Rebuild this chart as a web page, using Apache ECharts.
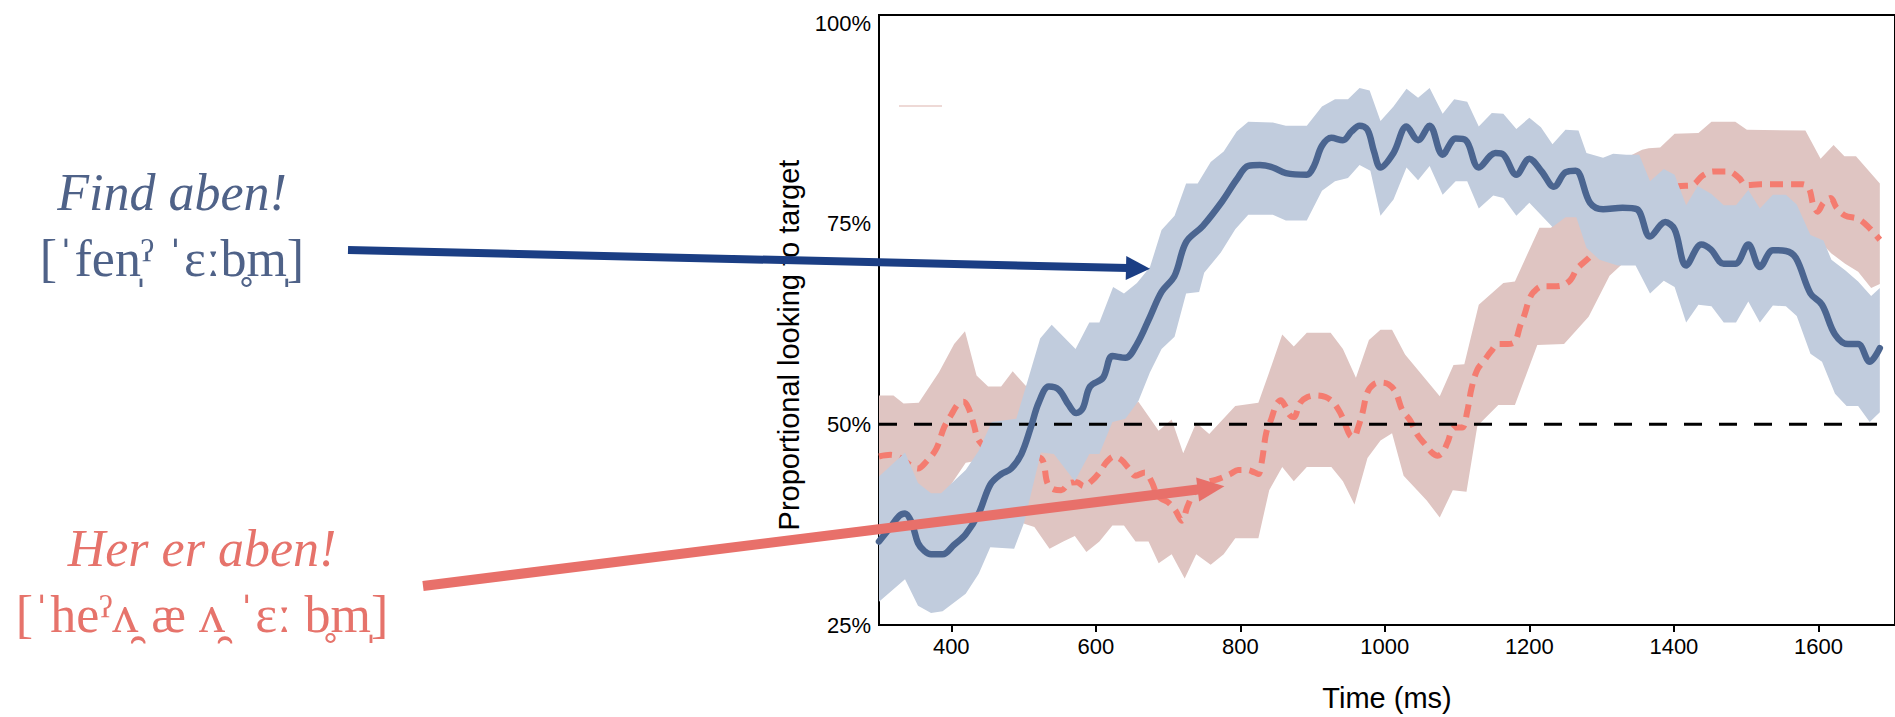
<!DOCTYPE html>
<html>
<head>
<meta charset="utf-8">
<script src="https://cdn.jsdelivr.net/npm/echarts@6/dist/echarts.min.js"></script>
<style>
  html, body { margin: 0; padding: 0; background: #ffffff; }
  #chart { width: 1895px; height: 717px; }
</style>
</head>
<body>
<div id="chart"></div>
<script>
// Axis ticks
const xTicks = [400, 600, 800, 1000, 1200, 1400, 1600];
const yTicks = [25, 50, 75, 100];
const chanceLevel = 50;

// "Find aben!" — mean proportion of looks to target and its confidence band, [ms, %]
const findMean = [
  [300,35.4],[316,37.2],[328,38.6],[336,38.9],[345,37.8],[354,35.2],[363,34.2],[372,33.8],[388,33.8],[404,35.0],
  [420,36.3],[438,38.9],[454,42.5],[469,43.8],[483,44.5],[497,46.3],[510,49.6],[521,52.7],[535,54.7],[549,54.3],
  [562,52.5],[573,51.4],[582,52.0],[592,54.7],[610,55.8],[623,58.5],[641,58.3],[657,60.0],[675,63.4],[691,66.5],
  [709,68.5],[725,72.7],[748,74.7],[775,77.8],[795,80.5],[811,82.2],[827,82.3],[845,82.0],[863,81.3],[892,81.1],
  [902,82.2],[913,84.7],[926,85.7],[942,85.4],[954,86.5],[965,87.2],[976,86.7],[985,84.0],[994,82.0],[1012,83.8],
  [1030,87.1],[1046,85.4],[1062,87.2],[1080,83.6],[1098,85.6],[1112,85.4],[1130,82.0],[1153,83.8],[1164,83.6],[1182,81.1],
  [1200,83.1],[1217,81.5],[1234,79.6],[1250,81.4],[1264,81.6],[1284,77.6],[1302,76.8],[1329,77.0],[1349,76.8],[1367,73.4],
  [1388,75.2],[1401,74.3],[1417,69.8],[1438,72.4],[1451,71.8],[1469,70.0],[1485,70.0],[1503,72.4],[1519,69.6],[1537,71.7],
  [1555,71.6],[1569,70.7],[1589,66.3],[1605,64.9],[1623,61.2],[1641,60.0],[1655,60.0],[1671,57.8],[1685,59.5]
];
const findUpper = [
  [300,43.5],[336,46.5],[354,42.7],[372,41.4],[386,41.4],[420,44.3],[438,46.7],[456,50.3],[490,50.7],[505,55.2],
  [523,60.7],[539,62.4],[572,59.4],[591,62.7],[605,62.7],[624,67.1],[639,66.3],[657,67.6],[675,69.6],[691,74.2],
  [709,76.0],[725,80.0],[741,80.0],[759,82.7],[777,84.0],[795,86.5],[811,87.7],[845,87.6],[863,87.2],[892,87.2],
  [913,89.6],[931,90.5],[949,90.5],[965,91.9],[979,91.6],[994,87.8],[1012,89.6],[1030,91.8],[1046,90.7],[1062,91.9],
  [1080,88.7],[1096,90.5],[1114,90.2],[1130,87.1],[1148,88.8],[1164,88.7],[1182,86.8],[1200,88.2],[1216,87.0],[1232,84.9],
  [1250,86.7],[1268,86.6],[1279,83.8],[1302,83.2],[1316,83.7],[1334,83.6],[1352,83.6],[1367,80.3],[1386,81.8],[1401,81.1],
  [1417,77.3],[1433,79.7],[1452,78.7],[1469,77.3],[1486,77.3],[1503,79.2],[1519,76.9],[1537,78.6],[1555,78.6],[1570,77.4],
  [1589,73.6],[1607,72.9],[1618,70.5],[1637,69.2],[1655,67.8],[1673,66.0],[1685,67.0]
];
const findLower = [
  [300,27.9],[336,30.7],[354,27.4],[372,26.5],[388,26.7],[420,28.9],[438,31.4],[454,34.7],[487,34.5],[501,37.8],
  [524,46.5],[542,46.3],[571,42.9],[591,46.3],[605,46.3],[623,50.3],[641,50.7],[659,52.9],[675,56.5],[691,59.4],
  [709,60.9],[725,66.3],[743,66.5],[750,68.9],[773,71.4],[793,74.3],[811,76.1],[845,76.1],[863,75.4],[892,75.4],
  [913,79.1],[931,80.3],[949,80.7],[965,82.3],[980,81.6],[994,76.0],[1012,78.0],[1030,82.0],[1046,80.4],[1062,82.2],
  [1080,78.6],[1098,80.3],[1114,80.3],[1130,76.9],[1150,78.5],[1164,78.2],[1182,76.0],[1200,77.6],[1232,74.6],[1250,75.8],
  [1265,75.8],[1279,72.0],[1297,70.5],[1322,69.8],[1347,69.8],[1367,66.3],[1386,67.9],[1401,67.1],[1417,62.7],[1434,64.9],
  [1452,64.7],[1469,62.7],[1486,62.7],[1503,65.3],[1519,62.7],[1537,64.8],[1555,64.7],[1570,63.5],[1589,58.8],[1605,57.8],
  [1623,53.8],[1639,52.3],[1655,52.3],[1671,50.3],[1685,51.5]
];

// "Her er aben!" — mean proportion of looks to target and its confidence band, [ms, %]
const herMean = [
  [300,46.0],[316,46.2],[330,45.8],[345,44.8],[354,44.5],[365,45.3],[379,46.9],[390,49.6],[400,51.2],[410,52.6],
  [417,52.8],[424,52.0],[431,50.0],[438,48.0],[455,46.5],[475,45.5],[495,45.8],[512,46.0],[526,45.6],[533,42.7],
  [542,41.9],[552,41.8],[564,42.7],[574,42.8],[583,42.3],[595,43.0],[605,44.0],[615,45.3],[625,46.0],[635,45.6],
  [645,44.6],[655,43.6],[668,44.0],[677,42.9],[684,41.4],[691,40.7],[700,40.3],[710,39.3],[719,38.0],[727,39.8],
  [736,41.5],[745,42.3],[755,42.8],[770,43.2],[786,43.8],[797,44.3],[809,44.3],[820,44.0],[825,43.8],[830,45.5],
  [836,49.0],[843,50.7],[850,52.5],[856,53.0],[862,52.3],[868,51.2],[874,50.9],[883,52.7],[893,53.4],[905,53.6],
  [918,53.4],[928,52.8],[938,51.5],[946,49.8],[952,48.6],[957,48.4],[963,49.6],[969,51.4],[976,54.0],[985,55.0],
  [994,55.2],[1005,55.0],[1015,54.0],[1024,51.8],[1035,50.5],[1045,48.7],[1055,47.6],[1065,46.5],[1073,46.1],[1080,46.5],
  [1087,47.8],[1096,49.6],[1107,49.6],[1114,51.6],[1120,54.5],[1128,56.8],[1138,58.0],[1147,59.1],[1157,60.0],[1170,60.0],
  [1180,60.3],[1187,62.2],[1193,63.6],[1200,65.6],[1206,66.5],[1218,67.2],[1232,67.2],[1245,67.3],[1257,68.0],[1266,69.4],
  [1282,70.7],[1300,72.5],[1325,75.0],[1350,77.0],[1375,78.5],[1395,79.5],[1410,79.7],[1425,79.8],[1440,81.0],[1455,81.5],
  [1476,81.5],[1490,80.7],[1500,79.8],[1520,79.9],[1550,79.9],[1578,79.9],[1587,79.4],[1593,77.3],[1599,76.5],[1607,77.6],
  [1617,78.2],[1625,77.0],[1637,76.0],[1655,75.6],[1668,74.7],[1685,73.0]
];
const herUpper = [
  [300,53.6],[320,53.6],[334,52.6],[355,52.7],[383,56.5],[404,60.0],[419,61.6],[435,56.1],[451,54.7],[469,54.7],
  [485,56.6],[503,54.8],[520,55.0],[545,55.5],[570,54.5],[600,54.5],[625,53.5],[641,52.0],[659,52.8],[687,49.2],
  [705,50.6],[721,46.4],[739,50.2],[757,48.8],[793,52.3],[825,52.7],[840,56.5],[858,61.2],[874,59.7],[892,61.4],
  [925,61.4],[942,59.4],[960,55.8],[978,60.5],[994,61.8],[1010,61.8],[1028,58.7],[1076,53.5],[1095,57.4],[1110,57.5],
  [1130,64.9],[1164,67.6],[1180,67.8],[1214,74.5],[1230,74.5],[1250,76.5],[1270,79.0],[1290,81.0],[1310,82.5],[1334,83.2],
  [1356,84.2],[1365,84.4],[1381,84.5],[1401,86.2],[1434,86.3],[1452,87.7],[1485,87.7],[1501,86.7],[1582,86.6],[1603,83.1],
  [1621,84.8],[1636,83.4],[1652,83.4],[1685,80.0]
];
const herLower = [
  [300,38.0],[336,39.5],[372,40.5],[388,40.9],[399,42.4],[420,45.2],[438,45.5],[460,43.0],[480,40.0],[501,37.6],
  [515,37.2],[536,34.5],[555,35.4],[571,36.1],[587,34.1],[605,35.4],[623,37.4],[639,37.4],[655,35.4],[673,35.4],
  [687,32.7],[705,33.8],[723,30.8],[739,33.8],[759,32.5],[777,33.8],[793,35.8],[825,35.8],[840,41.8],[858,44.7],
  [874,42.9],[892,44.7],[926,44.7],[942,42.9],[958,40.0],[976,45.8],[994,48.0],[1010,48.9],[1026,43.6],[1058,40.5],
  [1076,38.4],[1094,41.8],[1113,41.6],[1128,49.8],[1157,52.4],[1180,52.4],[1211,59.9],[1248,60.0],[1282,63.4],[1311,68.5],
  [1329,70.0],[1347,70.4],[1380,72.0],[1420,73.0],[1460,74.0],[1500,75.0],[1540,75.0],[1570,74.0],[1589,73.0],[1605,72.5],
  [1618,71.3],[1637,70.0],[1655,69.0],[1673,67.0],[1685,67.5]
];

// Where the annotation arrows point, in [ms, %]
const findArrowTip = [675, 69.4];
const herArrowTip = [778, 42.3];

const COLORS = {
  findLine: '#4b6590',
  findBand: '#c1ccdd',
  herLine: '#f47c70',
  herBand: '#dfc5c2',
  findText: '#4f6288',
  herText: '#e6736b',
  findArrow: '#1b3e84',
  herArrow: '#e8706a'
};

const FONT_SANS = '"Liberation Sans", Arial, Helvetica, sans-serif';
const FONT_SERIF = '"Liberation Serif", "Times New Roman", "DejaVu Serif", serif';

// Confidence band: one polygon along the upper edge and back along the lower edge
function bandSeries(name, upper, lower, color, z) {
  return {
    name: name,
    type: 'custom',
    z: z,
    silent: true,
    clip: true,
    data: [[upper[0][0], upper[0][1]]],
    renderItem: function (params, api) {
      const pts = upper.map(p => api.coord(p))
        .concat(lower.slice().reverse().map(p => api.coord(p)));
      return { type: 'polygon', shape: { points: pts }, style: { fill: color } };
    }
  };
}

const chart = echarts.init(document.getElementById('chart'), null, { renderer: 'svg' });

const option = {
  animation: false,
  backgroundColor: '#ffffff',
  grid: {
    left: 879, top: 15, width: 1036, bottom: 91,
    show: true, borderColor: '#000', borderWidth: 2, backgroundColor: 'transparent'
  },
  xAxis: {
    type: 'value',
    min: 300, max: 1706,
    axisLine: { show: true, lineStyle: { color: '#000', width: 2 } },
    axisTick: { show: true, customValues: xTicks, length: 7, inside: false, lineStyle: { color: '#000', width: 2 } },
    axisLabel: {
      customValues: xTicks, color: '#000', fontSize: 22, fontFamily: FONT_SANS, margin: 10,
      formatter: v => String(v)
    },
    splitLine: { show: false },
    name: 'Time (ms)',
    nameLocation: 'middle',
    nameGap: 58,
    nameTextStyle: { color: '#000', fontSize: 29, fontFamily: FONT_SANS }
  },
  yAxis: {
    type: 'value',
    min: 25, max: 101,
    axisLine: { show: true, lineStyle: { color: '#000', width: 2 } },
    axisTick: { show: false },
    axisLabel: {
      customValues: yTicks, color: '#000', fontSize: 22, fontFamily: FONT_SANS, margin: 8,
      formatter: v => v + '%'
    },
    splitLine: { show: false }
  },
  series: [
    bandSeries('Her er aben! band', herUpper, herLower, COLORS.herBand, 1),
    {
      name: 'Her er aben!',
      type: 'line',
      z: 2,
      data: herMean,
      showSymbol: false,
      smooth: 0.35,
      silent: true,
      lineStyle: { color: COLORS.herLine, width: 6, type: [13, 8], cap: 'butt' }
    },
    bandSeries('Find aben! band', findUpper, findLower, COLORS.findBand, 3),
    {
      name: 'chance',
      type: 'line',
      z: 4,
      data: [[300, chanceLevel], [1706, chanceLevel]],
      showSymbol: false,
      silent: true,
      lineStyle: { color: '#000', width: 3, type: [18, 17] }
    },
    {
      name: 'Find aben!',
      type: 'line',
      z: 5,
      data: findMean,
      showSymbol: false,
      smooth: 0.35,
      silent: true,
      lineStyle: { color: COLORS.findLine, width: 6.5, cap: 'round', join: 'round' }
    }
  ]
};

chart.setOption(option);

// Arrow made of a shaft and a triangular head
function arrow(x1, y1, x2, y2, width, headLen, headHalf, color) {
  const dx = x2 - x1, dy = y2 - y1, L = Math.hypot(dx, dy);
  const ux = dx / L, uy = dy / L, nx = -uy, ny = ux;
  const bx = x2 - ux * headLen, by = y2 - uy * headLen;
  return [
    { type: 'line', z: 50, silent: true,
      shape: { x1: x1, y1: y1, x2: bx + ux * 2, y2: by + uy * 2 },
      style: { stroke: color, lineWidth: width } },
    { type: 'polygon', z: 51, silent: true,
      shape: { points: [[x2, y2], [bx + nx * headHalf, by + ny * headHalf], [bx - nx * headHalf, by - ny * headHalf]] },
      style: { fill: color } }
  ];
}

const findTip = chart.convertToPixel({ gridIndex: 0 }, findArrowTip);
const herTip = chart.convertToPixel({ gridIndex: 0 }, herArrowTip);

chart.setOption({
  graphic: [
    // short pale stroke left in the upper-left of the panel
    { type: 'line', z: 10, silent: true, shape: { x1: 899, y1: 106, x2: 942, y2: 106 },
      style: { stroke: '#e8cdc8', lineWidth: 1.5 } },
    // y axis title
    { type: 'text', z: 10, silent: true, x: 789, y: 345, rotation: Math.PI / 2,
      style: { text: 'Proportional looking to target', fill: '#000', fontSize: 29, fontFamily: FONT_SANS,
               align: 'center', verticalAlign: 'middle' } },
    // condition labels
    { type: 'text', z: 10, silent: true, x: 172, y: 192,
      style: { text: 'Find aben!', fill: COLORS.findText, fontSize: 52, fontStyle: 'italic', fontFamily: FONT_SERIF,
               align: 'center', verticalAlign: 'middle' } },
    { type: 'text', z: 10, silent: true, x: 172, y: 258,
      style: { text: '[\u02C8fen\u0329\u02C0 \u02C8\u025B\u02D0b\u0325m\u0329]', fill: COLORS.findText, fontSize: 52, fontFamily: FONT_SERIF,
               align: 'center', verticalAlign: 'middle' } },
    { type: 'text', z: 10, silent: true, x: 202, y: 548,
      style: { text: 'Her er aben!', fill: COLORS.herText, fontSize: 52, fontStyle: 'italic', fontFamily: FONT_SERIF,
               align: 'center', verticalAlign: 'middle' } },
    { type: 'text', z: 10, silent: true, x: 202, y: 614,
      style: { text: '[\u02C8he\u02C0\u028C\u032F \u00E6 \u028C\u032F \u02C8\u025B\u02D0 b\u0325m\u0329]', fill: COLORS.herText, fontSize: 52, fontFamily: FONT_SERIF,
               align: 'center', verticalAlign: 'middle' } },
    ...arrow(348, 250, findTip[0], findTip[1], 8, 24, 12, COLORS.findArrow),
    ...arrow(423, 586, herTip[0], herTip[1], 10, 27, 12, COLORS.herArrow)
  ]
});
</script>
</body>
</html>
